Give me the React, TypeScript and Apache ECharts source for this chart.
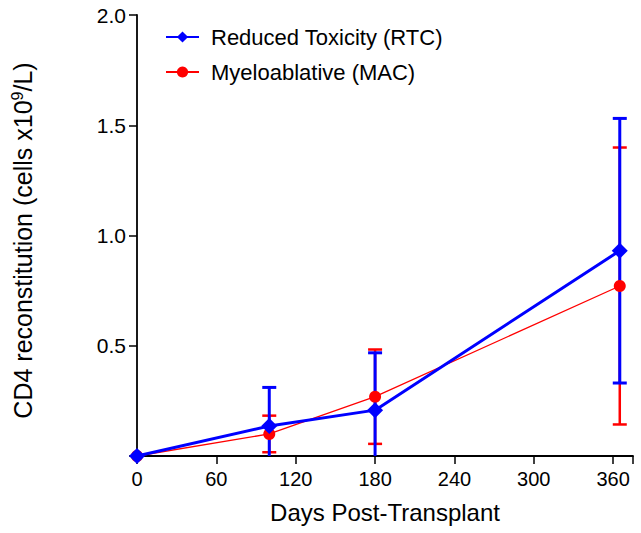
import React, { useEffect, useRef } from "react";
import * as echarts from "echarts";

const days = [0, 100, 180, 365];
const rtcMean = [0, 0.136, 0.208, 0.931];
const rtcErr = [0, 0.175, 0.26, 0.6];
const macMean = [0, 0.1, 0.269, 0.771];
const macErr = [0, 0.083, 0.214, 0.628];
const xTicks = [0, 60, 120, 180, 240, 300, 360];
const yTicks = [0.5, 1.0, 1.5, 2.0];

const FONT = "Liberation Sans, Arial, sans-serif";

function errorSeries(name: string, mean: number[], err: number[], color: string, lw: number, z: number) {
  const data = days.map((d, i) => [d, mean[i] - err[i], mean[i] + err[i]]);
  return {
    type: "custom",
    name: name + "-err",
    z,
    silent: true,
    clip: false,
    data: data.filter((_, i) => err[i] > 0),
    renderItem: (params: any, api: any) => {
      const x = api.value(0);
      const lo = api.value(1);
      const hi = api.value(2);
      const pHi = api.coord([x, hi]);
      const pLo = api.coord([x, Math.max(lo, 0)]);
      const half = 7;
      const children: any[] = [
        { type: "line", shape: { x1: pHi[0], y1: pHi[1], x2: pLo[0], y2: pLo[1] }, style: { stroke: color, lineWidth: lw } },
        { type: "line", shape: { x1: pHi[0] - half, y1: pHi[1], x2: pHi[0] + half, y2: pHi[1] }, style: { stroke: color, lineWidth: lw } },
      ];
      if (lo >= 0) {
        children.push({ type: "line", shape: { x1: pLo[0] - half, y1: pLo[1], x2: pLo[0] + half, y2: pLo[1] }, style: { stroke: color, lineWidth: lw } });
      }
      return { type: "group", children };
    },
  };
}

export default function App() {
  const ref = useRef<HTMLDivElement>(null);
  useEffect(() => {
    const chart = echarts.init(ref.current!, null, { renderer: "svg" });
    chart.setOption({
      animation: false,
      backgroundColor: "#ffffff",
      textStyle: { fontFamily: FONT },
      grid: { left: 137, right: 8, top: 15, bottom: 77, containLabel: false },
      legend: {
        left: 160,
        top: 21,
        orient: "vertical",
        itemWidth: 33,
        itemHeight: 14,
        itemGap: 13,
        textStyle: { fontSize: 22, color: "#000", fontFamily: FONT, padding: [0, 0, 0, 7] },
        data: ["Reduced Toxicity (RTC)", "Myeloablative (MAC)"],
      },
      xAxis: {
        type: "value",
        min: 0,
        max: 375,
        interval: 60,
        name: "Days Post-Transplant",
        nameLocation: "middle",
        nameGap: 44,
        nameTextStyle: { fontSize: 24, color: "#000", fontFamily: FONT, verticalAlign: "top" },
        axisLine: { lineStyle: { color: "#000", width: 1.8 } },
        axisTick: { show: true, length: 8, inside: false, lineStyle: { color: "#000", width: 1.5 } },
        axisLabel: {
          fontSize: 20,
          color: "#000",
          fontFamily: FONT,
          margin: 13,
          formatter: (v: number) => (xTicks.includes(v) ? String(v) : ""),
        },
        splitLine: { show: false },
      },
      yAxis: {
        type: "value",
        min: 0,
        max: 2.0,
        interval: 0.5,
        name: "{a|CD4 reconstitution (cells x10}{s|9}{a|/L)}",
        nameLocation: "middle",
        nameGap: 100,
        nameRotate: 90,
        nameTextStyle: {
          padding: [0, 10, 0, 0],
          rich: {
            a: { fontSize: 25, color: "#000", fontFamily: FONT },
            s: { fontSize: 16, color: "#000", fontFamily: FONT, verticalAlign: "top", padding: [0, 0, 12, 0] },
          },
        },
        axisLine: { show: true, lineStyle: { color: "#000", width: 1.8 } },
        axisTick: { show: true, length: 8, inside: false, lineStyle: { color: "#000", width: 1.5 } },
        axisLabel: {
          fontSize: 21,
          color: "#000",
          fontFamily: FONT,
          margin: 11,
          formatter: (v: number) => (yTicks.some((t) => Math.abs(t - v) < 1e-9) ? v.toFixed(1) : ""),
        },
        splitLine: { show: false },
      },
      series: [
        errorSeries("mac", macMean, macErr, "#ff0000", 2.5, 1),
        errorSeries("rtc", rtcMean, rtcErr, "#0000ff", 3, 2),
        {
          type: "line",
          name: "Myeloablative (MAC)",
          z: 3,
          data: days.map((d, i) => [d, macMean[i]]),
          symbol: "circle",
          symbolSize: 12,
          lineStyle: { color: "#ff0000", width: 1.3 },
          itemStyle: { color: "#ff0000" },
          clip: false,
        },
        {
          type: "line",
          name: "Reduced Toxicity (RTC)",
          z: 4,
          data: days.map((d, i) => [d, rtcMean[i]]),
          symbol: "diamond",
          symbolSize: 16,
          lineStyle: { color: "#0000ff", width: 3 },
          itemStyle: { color: "#0000ff" },
          clip: false,
        },
      ],
    });
    return () => chart.dispose();
  }, []);
  return <div ref={ref} style={{ position: "fixed", left: 0, top: 0, width: 641, height: 533 }} />;
}
